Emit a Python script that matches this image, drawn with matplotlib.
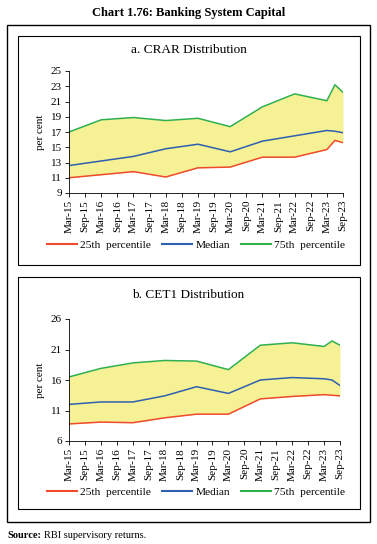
import matplotlib

matplotlib.use("Agg")
import matplotlib.pyplot as plt
from matplotlib.lines import Line2D
from matplotlib.patches import Rectangle

plt.rcParams["font.family"] = ["Liberation Serif", "DejaVu Serif"]

W, H = 377, 544

# half-year tick labels; data sits on Mar of each year plus Jun-23 and Sep-23
tick_labels = ["Mar-15", "Sep-15", "Mar-16", "Sep-16", "Mar-17", "Sep-17",
               "Mar-18", "Sep-18", "Mar-19", "Sep-19", "Mar-20", "Sep-20",
               "Mar-21", "Sep-21", "Mar-22", "Sep-22", "Mar-23", "Sep-23"]
periods = ["Mar-15", "Mar-16", "Mar-17", "Mar-18", "Mar-19", "Mar-20",
           "Mar-21", "Mar-22", "Mar-23", "Jun-23", "Sep-23"]
period_pos = [0, 2, 4, 6, 8, 10, 12, 14, 16, 16.5, 17]

crar_p25 = [11.0, 11.4, 11.8, 11.1, 12.3, 12.4, 13.7, 13.7, 14.7, 15.9, 15.6]
crar_med = [12.6, 13.2, 13.8, 14.8, 15.4, 14.4, 15.8, 16.5, 17.2, 17.1, 16.9]
crar_p75 = [17.0, 18.6, 18.9, 18.5, 18.8, 17.7, 20.3, 22.0, 21.1, 23.2, 22.2]

cet1_p25 = [8.8, 9.1, 9.0, 9.8, 10.4, 10.4, 12.9, 13.3, 13.6, 13.5, 13.4]
cet1_med = [12.0, 12.4, 12.4, 13.4, 14.9, 13.8, 16.0, 16.4, 16.2, 16.0, 15.1]
cet1_p75 = [16.5, 17.9, 18.8, 19.2, 19.1, 17.7, 21.7, 22.1, 21.5, 22.4, 21.7]

RED, BLUE, GREEN, FILL = "#ee4a2c", "#2f5fb0", "#2fb04c", "#f6f194"


def px(x0, y0, x1, y1):
    return [x0 / W, 1 - y1 / H, (x1 - x0) / W, (y1 - y0) / H]


def panel(fig, rect, p25, med, p75, yticks, title, title_y, legend_y):
    ax = fig.add_axes(px(*rect))
    ax.fill_between(period_pos, p25, p75, color=FILL, lw=0)
    ax.plot(period_pos, p25, color=RED, lw=1.1)
    ax.plot(period_pos, med, color=BLUE, lw=1.1)
    ax.plot(period_pos, p75, color=GREEN, lw=1.1)
    ax.set_xlim(0, len(tick_labels) - 1)
    ax.set_ylim(yticks[0], yticks[-1])
    ax.set_yticks(yticks)
    ax.set_xticks(range(len(tick_labels)))
    ax.set_xticklabels(tick_labels, rotation=90, fontsize=8)
    ax.tick_params(axis="y", labelsize=8, length=3, width=0.6, pad=2)
    ax.tick_params(axis="x", length=3, width=0.6, pad=2)
    for s in ("top", "right"):
        ax.spines[s].set_visible(False)
    for s in ("left", "bottom"):
        ax.spines[s].set_linewidth(0.6)
    ax.set_ylabel("per cent", fontsize=8, labelpad=4)
    fig.text(0.5, 1 - title_y / H, title, ha="center", va="center", fontsize=9.5)
    handles = [Line2D([], [], color=c, lw=1.5) for c in (RED, BLUE, GREEN)]
    fig.legend(handles, ["25th  percentile", "Median", "75th  percentile"],
               loc="center", bbox_to_anchor=(0.52, 1 - legend_y / H), ncol=3,
               frameon=False, fontsize=8.2, handlelength=2.6, handletextpad=0.3,
               columnspacing=1.0)
    return ax


fig = plt.figure(figsize=(W / 100, H / 100), dpi=100)

fig.text(0.5, 1 - 13 / H, "Chart 1.76: Banking System Capital", ha="center",
         va="center", fontsize=9, fontweight="bold")

# outer frame and the two panel boxes
for x0, y0, x1, y1, lw in [(7, 25, 370, 522, 1.0), (18, 36, 360, 265, 0.8),
                           (18, 277, 360, 509, 0.8)]:
    fig.patches.append(Rectangle((x0 / W, 1 - y1 / H), (x1 - x0) / W, (y1 - y0) / H,
                                 transform=fig.transFigure, fill=False,
                                 ec="black", lw=lw))

panel(fig, (69, 71, 343, 193), crar_p25, crar_med, crar_p75,
      [9, 11, 13, 15, 17, 19, 21, 23, 25], "a. CRAR Distribution", 50, 245)
panel(fig, (69, 319, 340, 441), cet1_p25, cet1_med, cet1_p75,
      [6, 11, 16, 21, 26], "b. CET1 Distribution", 295, 492)

src = fig.text(7 / W, 1 - 535 / H, "Source:", fontsize=7.5, fontweight="bold",
               va="center")
fig.canvas.draw()
bb = src.get_window_extent()
fig.text(bb.x1 / W + 3 / W, 1 - 535 / H, "RBI supervisory returns.", fontsize=7.5,
         va="center")

fig.savefig("out.png", dpi=100)
